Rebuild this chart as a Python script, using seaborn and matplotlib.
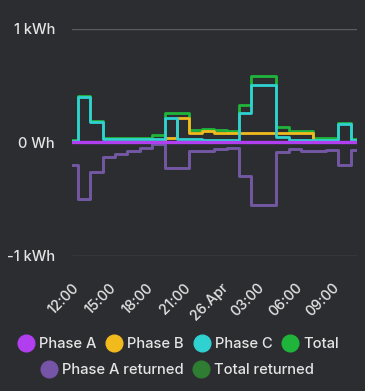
import numpy as np
import pandas as pd
import matplotlib
matplotlib.use('Agg')
import matplotlib.pyplot as plt
from matplotlib.lines import Line2D
import seaborn as sns

# Hourly energy values (kWh), 25 Apr 12:00 -> 26 Apr 11:00
times = pd.date_range('2024-04-25 12:00', periods=24, freq='h')

phase_a = [0.0] * 24
phase_b = [0.0, 0.0, 0.0, 0.0, 0.0, 0.0, 0.0, 0.0, 0.04, 0.21, 0.08, 0.095,
           0.08, 0.08, 0.08, 0.08, 0.08, 0.08, 0.08, 0.08, 0.0, 0.0, 0.0, 0.0]
phase_c = [0.01, 0.40, 0.18, 0.025, 0.025, 0.025, 0.025, 0.025, 0.21, 0.03, 0.03, 0.02,
           0.02, 0.02, 0.255, 0.50, 0.50, 0.05, 0.02, 0.02, 0.02, 0.02, 0.16, 0.02]
total = [0.02, 0.405, 0.185, 0.035, 0.035, 0.035, 0.04, 0.06, 0.26, 0.26, 0.11, 0.12,
         0.105, 0.10, 0.33, 0.58, 0.58, 0.13, 0.10, 0.10, 0.04, 0.04, 0.165, 0.03]
phase_a_returned = [-0.20, -0.50, -0.26, -0.13, -0.10, -0.077, -0.055, -0.02, -0.23, -0.23, -0.08, -0.08,
                    -0.06, -0.055, -0.30, -0.55, -0.55, -0.09, -0.06, -0.075, -0.08, -0.07, -0.20, -0.07]
total_returned = list(phase_a_returned)

tick_times = pd.to_datetime(['2024-04-25 12:00', '2024-04-25 15:00', '2024-04-25 18:00',
                             '2024-04-25 21:00', '2024-04-26 00:00', '2024-04-26 03:00',
                             '2024-04-26 06:00', '2024-04-26 09:00'])
tick_labels = ['12:00', '15:00', '18:00', '21:00', '26.Apr', '03:00', '06:00', '09:00']
y_ticks = [-1, 0, 1]
y_tick_labels = ['-1 kWh', '0 Wh', '1 kWh']

bg = '#2c2d31'
txt = '#e4e4e4'

series = {
    'Phase A': (phase_a, '#b13ff0'),
    'Phase B': (phase_b, '#f2bb1d'),
    'Phase C': (phase_c, '#2fd1d1'),
    'Total': (total, '#1fb53a'),
    'Phase A returned': (phase_a_returned, '#7654a8'),
    'Total returned': (total_returned, '#2e7d32'),
}
# draw order (last on top)
draw_order = ['Total returned', 'Phase A returned', 'Total', 'Phase B', 'Phase C', 'Phase A']

sns.set_theme(style='dark')
plt.rcParams['font.family'] = ['Inter', 'DejaVu Sans']

fig = plt.figure(figsize=(3.65, 3.91), dpi=100, facecolor=bg)
ax = fig.add_axes([0.1964, 0.346, 0.7814, 0.5806])
ax.set_facecolor(bg)

for name in draw_order:
    vals, col = series[name]
    df = pd.DataFrame({'time': times, 'value': vals})
    sns.lineplot(data=df, x='time', y='value', ax=ax, color=col,
                 linewidth=2.4 if name == 'Phase A' else 2.0,
                 drawstyle='steps-mid', legend=False)

ax.set_xlim(times[0], times[-1])
ax.set_ylim(-1, 1)
ax.set_yticks(y_ticks)
ax.set_yticklabels(y_tick_labels)
ax.set_xticks(tick_times)
ax.set_xticklabels(tick_labels, rotation=45, ha='right', va='top', rotation_mode='anchor')
ax.tick_params(axis='x', length=0, pad=18, labelsize=10.3, colors=txt)
ax.tick_params(axis='y', length=0, pad=12, labelsize=10.5, colors=txt)
for lab in ax.get_xticklabels() + ax.get_yticklabels():
    lab.set_fontweight('medium')
ax.set_xlabel('')
ax.set_ylabel('')
ax.grid(False)
for y in [-1, 1]:
    ax.axhline(y, color='#5b5c60', linewidth=1.0, zorder=0)
for s in ax.spines.values():
    s.set_visible(False)

def handles(names):
    return [Line2D([], [], linestyle='none', marker='o', markersize=12,
                   markerfacecolor=series[n][1], markeredgecolor=series[n][1], label=n)
            for n in names]

leg_kw = dict(frameon=False, prop={'size': 10.6, 'weight': 'medium'}, labelcolor=txt,
              handlelength=1.2, handletextpad=0.3, columnspacing=0.6, borderpad=0, loc='center')
leg1 = fig.legend(handles=handles(['Phase A', 'Phase B', 'Phase C', 'Total']), ncol=4,
                  bbox_to_anchor=(0.488, 0.12), **leg_kw)
leg2 = fig.legend(handles=handles(['Phase A returned', 'Total returned']), ncol=2,
                  bbox_to_anchor=(0.485, 0.054), **leg_kw)

fig.savefig('out.png', dpi=100, facecolor=bg)
